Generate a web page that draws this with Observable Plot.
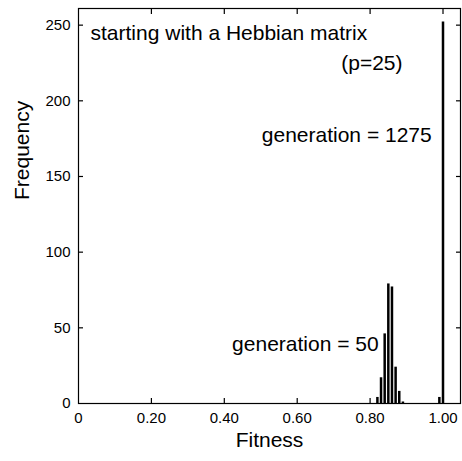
<!DOCTYPE html>
<html><head><meta charset="utf-8">
<script src="https://cdn.jsdelivr.net/npm/d3@7"></script>
<script src="https://cdn.jsdelivr.net/npm/@observablehq/plot@0.6"></script>
<style>body{margin:0;background:#fff} svg{display:block}</style>
</head><body><div id="chart"></div>
<script>
const gen50Fitness = [0.82, 0.83, 0.84, 0.85, 0.86, 0.87, 0.88, 0.89];
const gen50Counts = [4, 17, 46, 79, 77, 24, 8, 1];
const gen1275Fitness = [0.99, 1.00];
const gen1275Counts = [4, 252];
const xTickValues = [0, 0.2, 0.4, 0.6, 0.8, 1.0];
const xTickLabels = ["0", "0.20", "0.40", "0.60", "0.80", "1.00"];
const yTickValues = [0, 50, 100, 150, 200, 250];
const yTickLabels = ["0", "50", "100", "150", "200", "250"];
const xLabel = "Fitness";
const yLabel = "Frequency";
const notesStart = [{text: "starting with a Hebbian matrix", x: 0.033, y: 244.7}];
const notesEnd = [
  {text: "(p=25)", x: 0.889, y: 225},
  {text: "generation = 1275", x: 0.969, y: 177.4},
  {text: "generation = 50", x: 0.8235, y: 38.9}
];

const bars = [
  ...gen50Fitness.map((f, i) => ({fitness: f, count: gen50Counts[i]})),
  ...gen1275Fitness.map((f, i) => ({fitness: f, count: gen1275Counts[i]}))
];
const fmtX = d => xTickLabels[xTickValues.indexOf(d)];
const fmtY = d => yTickLabels[yTickValues.indexOf(d)];
const innerX = xTickValues.filter(d => d > 0);
const innerY = yTickValues.filter(d => d > 0);

const chart = Plot.plot({
  width: 462,
  height: 461,
  marginLeft: 78,
  marginRight: 2,
  marginTop: 8,
  marginBottom: 58,
  style: {fontFamily: "'Liberation Sans', Arial, sans-serif", color: "black", background: "white"},
  x: {domain: [0, 1.048]},
  y: {domain: [0, 261]},
  marks: [
    Plot.ruleX(bars, {x: "fitness", y1: 0, y2: "count", stroke: "black", strokeWidth: 2.5}),
    Plot.frame({stroke: "black", strokeWidth: 1.2}),
    Plot.axisX({anchor: "bottom", ticks: xTickValues, tickFormat: fmtX, tickSize: 0, tickPadding: 9, fontSize: 15, label: null}),
    Plot.axisX({anchor: "bottom", ticks: innerX, tickSize: -5, text: null, label: null, strokeWidth: 1.2}),
    Plot.axisX({anchor: "top", ticks: innerX, tickSize: -5, text: null, label: null, strokeWidth: 1.2}),
    Plot.axisY({anchor: "left", ticks: yTickValues, tickFormat: fmtY, tickSize: 0, tickPadding: 8, fontSize: 15, label: null}),
    Plot.axisY({anchor: "left", ticks: innerY, tickSize: -5, text: null, label: null, strokeWidth: 1.2}),
    Plot.axisY({anchor: "right", ticks: innerY, tickSize: -5, text: null, label: null, strokeWidth: 1.2}),
    Plot.text(notesStart, {x: "x", y: "y", text: "text", textAnchor: "start", fontSize: 21, fill: "black"}),
    Plot.text(notesEnd, {x: "x", y: "y", text: "text", textAnchor: "end", fontSize: 21, fill: "black"}),
    Plot.text([xLabel], {text: d => d, frameAnchor: "bottom", dy: 43, fontSize: 21, fill: "black"}),
    Plot.text([yLabel], {text: d => d, frameAnchor: "left", rotate: -90, dx: -56, dy: -6, fontSize: 21, fill: "black"})
  ]
});
document.getElementById("chart").appendChild(chart);
</script>
</body></html>
